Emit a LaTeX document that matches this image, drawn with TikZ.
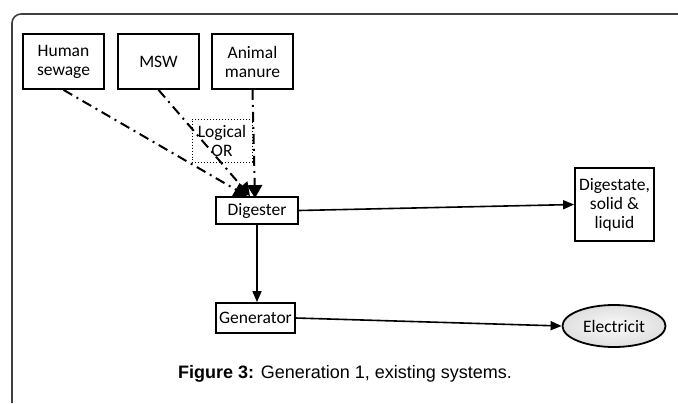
\documentclass[tikz,border=0pt]{standalone}
\usepackage{fontspec}
\setmainfont{Carlito}
\newfontfamily\capfont{Liberation Sans}
\usetikzlibrary{arrows.meta,shapes.geometric}

\tikzset{
  boxfont/.style={font=\fontsize{17.5bp}{19bp}\selectfont},
  unit/.style={draw=black, line width=1.8bp, fill=white, inner sep=2bp,
    align=center, boxfont},
  orbox/.style={draw=black, line width=1bp, dotted, inner sep=1bp,
    align=center, boxfont},
  feed/.style={line width=2bp, dash pattern=on 10bp off 5bp on 2bp off 5bp,
    -{Triangle[width=15bp,length=13bp,fill=black]}},
  flow/.style={line width=1.6bp, -{Triangle[width=9bp,length=11bp]}},
  product/.style={ellipse, draw=black, line width=1.8bp, inner sep=0pt,
    inner color=gray!4, outer color=gray!25, boxfont},
  frame/.style={draw=black!75, line width=1.6bp}
}

\begin{document}
\begin{tikzpicture}[x=1bp, y=-1bp]
  \useasboundingbox (0,0) rectangle (678,403);

  % outer frame, open towards the right and the bottom
  \draw[frame, rounded corners=9bp] (12,403) -- (12,14) -- (678,14);

  % feedstock sources
  \node[unit, minimum width=81bp, minimum height=55bp] (human) at (63.5,61.5) {Human\\sewage};
  \node[unit, minimum width=81bp, minimum height=55bp] (msw) at (158.5,61.5) {MSW};
  \node[unit, minimum width=81bp, minimum height=55bp] (animal) at (252.5,61.5) {Animal\\manure};

  % logical OR of the feedstocks
  \node[orbox, minimum width=60bp, minimum height=43bp] (or) at (222,140.5) {Logical\\OR};

  % process units
  \node[unit, minimum width=82bp, minimum height=27bp] (digester) at (257,210.5) {Digester};
  \node[unit, minimum width=79bp, minimum height=30bp] (generator) at (255.5,318) {Generator};
  \node[unit, minimum width=79bp, minimum height=73bp] (digestate) at (614.5,204.5) {Digestate,\\solid \&\\liquid};
  \node[product, minimum width=103bp, minimum height=42bp] (elec) at (614,326) {Electricit};

  % end points of the feeds on top of the digester
  \coordinate (inH) at ([xshift=-10bp]digester.north);
  \coordinate (inM) at ([xshift=-7bp]digester.north);
  \coordinate (inA) at ([xshift=-2bp,yshift=-2bp]digester.north);

  % feeds
  \draw[feed] (human.south) -- (inH);
  \draw[feed] (msw.south) -- (inM);
  \draw[feed] (animal.south) -- (inA);

  % process flows
  \draw[flow] (digester.east) -- (digestate.west);
  \draw[flow] (digester.south) -- (digester.south |- generator.north);
  \draw[flow] (generator.east) -- (elec.west);

  % caption
  \node[font=\capfont\fontsize{18bp}{21bp}\selectfont] (cap) at (345,374)
    {\textbf{Figure 3:} Generation 1, existing systems.};
\end{tikzpicture}
\end{document}
